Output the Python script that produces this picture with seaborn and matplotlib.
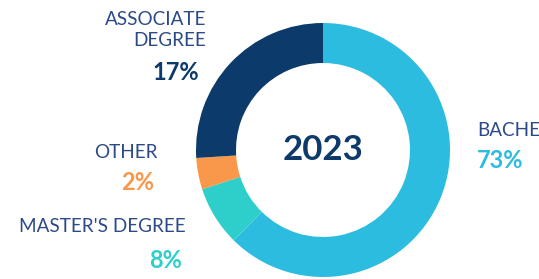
import matplotlib
matplotlib.use("Agg")
import matplotlib.pyplot as plt
import seaborn as sns

# categories in drawing order (clockwise from 12 o'clock);
# the first name is cut off in the reference and shows only as "BACHE"
categories = ["BACHE", "MASTER'S DEGREE", "OTHER", "ASSOCIATE\nDEGREE"]
# arc shares as drawn in the picture
shares = [62.4, 7.6, 4.0, 26.0]
# percentages printed next to the labels
pct_labels = ["73%", "8%", "2%", "17%"]
year = "2023"

colors = ["#2bbce0", "#2ecfcb", "#f9974a", "#0b3a6b"]
label_color = "#2d4a88"

sns.set_theme(style="white")
plt.rcParams["font.family"] = ["Lato", "DejaVu Sans"]

W, H = 539, 279
fig = plt.figure(figsize=(W / 100, H / 100), dpi=100)

cx, cy, R = 323, 150, 127
ax = fig.add_axes([(cx - R) / W, (H - cy - R) / H, 2 * R / W, 2 * R / H])
ax.pie(shares, colors=colors, startangle=90, counterclock=False, radius=1,
       wedgeprops=dict(width=0.315, linewidth=0))
ax.set_xlim(-1, 1)
ax.set_ylim(-1, 1)
ax.set_aspect("equal")
ax.axis("off")

ax.text(0, 0, year, ha="center", va="center", fontsize=25, fontweight="bold",
        color="#0b3a6b")


def px(x, y):
    return x / W, 1 - y / H


# name label position (px), anchor, percent position
layout = {
    "BACHE": ((477, 130), "left", (477, 160)),
    "MASTER'S DEGREE": ((186, 227), "right", (182, 260)),
    "OTHER": ((158, 152), "right", (154, 183)),
    "ASSOCIATE\nDEGREE": ((206, 30), "right", (199, 72)),
}

for cat, pct, col in zip(categories, pct_labels, colors):
    (lx, ly), ha, (ppx, ppy) = layout[cat]
    fig.text(*px(lx, ly), cat, ha=ha, va="center", fontsize=13.6,
             color=label_color, linespacing=1.3)
    fig.text(*px(ppx, ppy), pct, ha=ha, va="center", fontsize=17,
             fontweight="bold", color=col)

fig.savefig("out.png", dpi=100, facecolor="white")
